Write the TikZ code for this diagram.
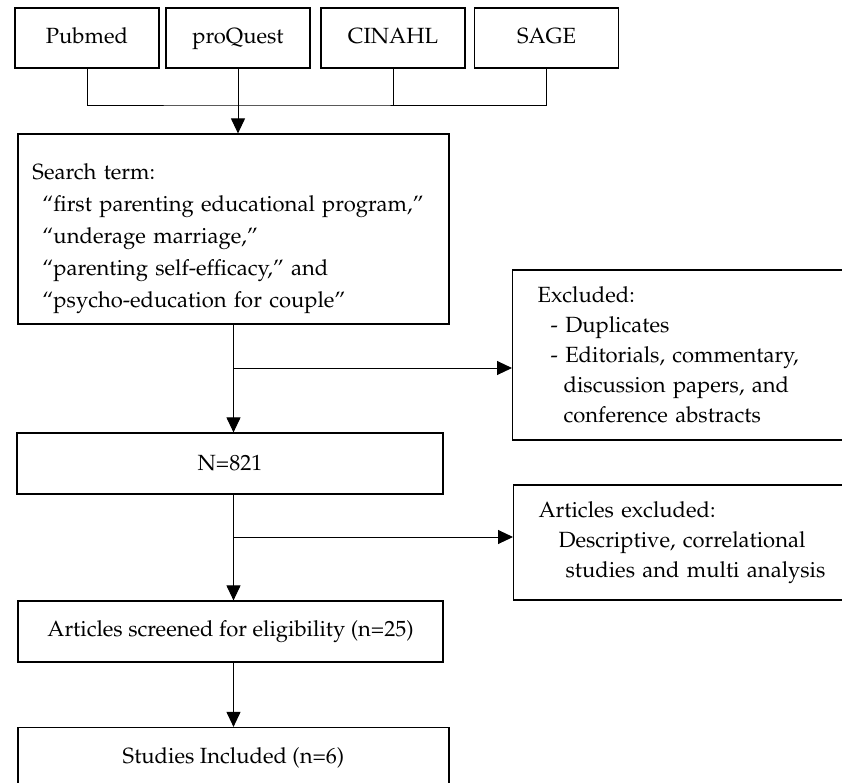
\documentclass[tikz,border=0pt]{standalone}
\usepackage[T1]{fontenc}
\usepackage{mathpazo}
\usetikzlibrary{arrows.meta,positioning}

\begin{document}
\begin{tikzpicture}[x=0.5pt, y=-0.5pt,
    box/.style={draw, line width=0.6pt, inner sep=0pt, font=\fontsize{11}{15}\selectfont},
    sidebox/.style={box, anchor=west, minimum width=194pt, text width=169pt, align=left},
    link/.style={line width=0.5pt},
    flow/.style={line width=0.5pt, -{Triangle[width=7pt,length=7.5pt]}}]
    \useasboundingbox (0,0) rectangle (842,783);
    \clip (0,0) rectangle (842,783);

    % Databases
    \foreach \name/\x/\txt in {pubmed/87/Pubmed, proquest/238/proQuest, cinahl/393/CINAHL, sage/546.5/SAGE} {
      \node[box, minimum width=72pt, minimum height=30pt, text height=8pt, text depth=2.5pt] (\name) at (\x,38) {\txt};
    }
    \coordinate (merge) at (238,105);
    \draw[link] (pubmed.south) |- (merge) -| (sage.south);
    \draw[link] (cinahl.south) -- (cinahl.south |- merge);

    % Search term
    \node[box, minimum width=215.5pt, minimum height=95pt, text width=201pt, align=left,
          font=\fontsize{11}{16}\selectfont] (search) at (233.5,229)
      {\rule{0pt}{18pt}Search term:\\
       \hspace*{5pt}``first parenting educational program,''\\
       \hspace*{5pt}``underage marriage,''\\
       \hspace*{5pt}``parenting self-efficacy,'' and\\
       \hspace*{5pt}``psycho-education for couple''};
    \draw[flow] (proquest.south) -- (proquest.south |- search.north);

    % Excluded records
    \node[sidebox, minimum height=85pt] (excl1) at (512,355)
      {Excluded:\\
       \hspace*{6.5pt}- Duplicates\\
       \hspace*{6.5pt}- Editorials, commentary,\\
       \hspace*{13pt}discussion papers, and\\
       \hspace*{13pt}conference abstracts};

    % Records and screening
    \node[box, minimum width=213pt, minimum height=30.5pt] (nall) at (230,463.5) {N=821};
    \node[sidebox, minimum height=57.5pt] (excl2) at (513,542.5)
      {Articles excluded:\\
       \hspace*{10pt}Descriptive, correlational\\
       \hspace*{13.5pt}studies and multi analysis};
    \node[box, minimum width=212.5pt, minimum height=30.5pt] (screened) at (230.5,631.5)
      {Articles screened for eligibility (n=25)};
    \node[box, minimum width=215.5pt, minimum height=30.5pt] (included) at (233.5,758)
      {Studies Included (n=6)};

    % Flow arrows
    \draw[flow] (search.south) -- (search.south |- nall.north);
    \coordinate (split1) at (233.5,368);
    \draw[flow] (split1) -- (split1 -| excl1.west);
    \draw[flow] (search.south |- nall.south) -- (search.south |- screened.north);
    \coordinate (split2) at (233.5,537);
    \draw[flow] (split2) -- (split2 -| excl2.west);
    \draw[flow] (search.south |- screened.south) -- (search.south |- included.north);
\end{tikzpicture}
\end{document}
